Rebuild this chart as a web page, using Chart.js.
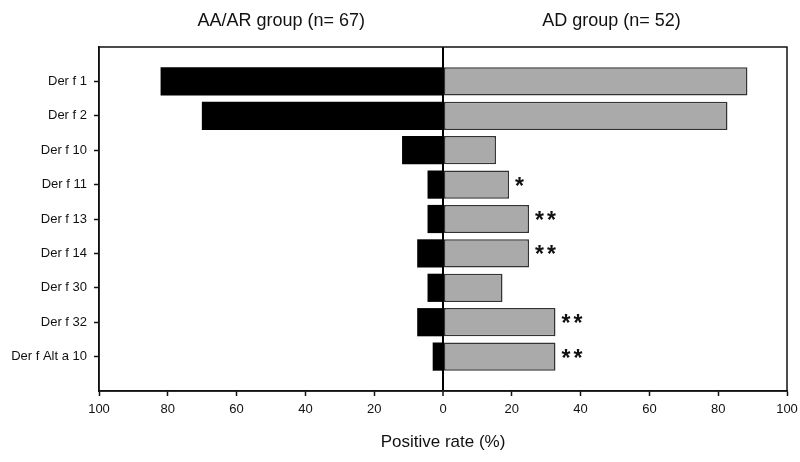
<!DOCTYPE html>
<html>
<head>
<meta charset="utf-8">
<script src="https://cdn.jsdelivr.net/npm/chart.js@4/dist/chart.umd.min.js"></script>
<style>
html,body{margin:0;padding:0;background:#fff;}
#wrap{width:800px;height:462px;}
</style>
</head>
<body>
<div id="wrap"><canvas id="chart"></canvas></div>
<script>
// allergen components, top to bottom
const allergens = ["Der f 1","Der f 2","Der f 10","Der f 11","Der f 13","Der f 14","Der f 30","Der f 32","Der f Alt a 10"];
// positive rates (%)
const aaArRate = [82.1, 70.1, 11.9, 4.5, 4.5, 7.5, 4.5, 7.5, 3.0];
const adRate   = [88.5, 82.7, 15.4, 19.2, 25.0, 25.0, 17.3, 32.7, 32.7];
// significance marks next to the AD bars
const sigMarks = ["", "", "", "*", "**", "**", "", "**", "**"];
const groupTitles = ["AA/AR group (n= 67)", "AD group (n= 52)"];
const axisTitle = "Positive rate (%)";

const FONT = "'Liberation Sans', Arial, sans-serif";
const INK = "#111";

// blank slot above and below so the rows sit one full step from the frame
const labels = ["", ...allergens, ""];
const leftData  = [null, ...aaArRate.map(v => -v), null];
const rightData = [null, ...adRate, null];

const extras = {
  id: "extras",
  afterDatasetsDraw(chart){
    const {ctx, chartArea:a, scales:{x, y}} = chart;
    ctx.save();
    // frame
    ctx.strokeStyle = INK; ctx.lineWidth = 1.5;
    ctx.strokeRect(a.left, a.top, a.right - a.left, a.bottom - a.top);
    // asterisks
    ctx.fillStyle = INK;
    ctx.font = "bold 23px " + FONT;
    ctx.textAlign = "left"; ctx.textBaseline = "alphabetic";
    sigMarks.forEach((m, i) => {
      const x0 = x.getPixelForValue(adRate[i]) + 6;
      const yc = y.getPixelForValue(i + 1);
      [...m].forEach((c, k) => ctx.fillText(c, x0 + k*12, yc + 9));
    });
    // group titles
    ctx.font = "18px " + FONT;
    ctx.textAlign = "center"; ctx.textBaseline = "middle";
    ctx.fillText(groupTitles[0], x.getPixelForValue(-47), 21);
    ctx.fillText(groupTitles[1], x.getPixelForValue(49), 21);
    ctx.restore();
  }
};

const ctx = document.getElementById("chart").getContext("2d");
new Chart(ctx, {
  type: "bar",
  data: {
    labels,
    datasets: [
      {label: groupTitles[0], data: leftData, backgroundColor: "#000", borderWidth: 0},
      {label: groupTitles[1], data: rightData, backgroundColor: "#aaaaaa", borderColor: "#333", borderWidth: 1.5, borderSkipped: false}
    ]
  },
  options: {
    indexAxis: "y",
    responsive: true,
    maintainAspectRatio: false,
    animation: false,
    barPercentage: 0.82,
    categoryPercentage: 1,
    layout: {padding: {top: 47, right: 13, left: 0, bottom: 0}},
    plugins: {legend: {display: false}, tooltip: {enabled: false}},
    scales: {
      x: {
        stacked: true,
        min: -100, max: 100,
        ticks: {stepSize: 20, color: INK, font: {size: 13, family: FONT}, padding: 6,
                callback: v => Math.abs(v)},
        grid: {
          drawOnChartArea: true,
          color: c => c.tick && c.tick.value === 0 ? "#000" : "rgba(0,0,0,0)",
          lineWidth: c => c.tick && c.tick.value === 0 ? 2 : 1,
          tickColor: INK, tickWidth: 1.5, tickLength: 5
        },
        border: {color: INK, width: 1.5},
        title: {display: true, text: axisTitle, color: INK, font: {size: 17, family: FONT}, padding: {top: 4, bottom: 9}},
        afterFit: s => { s.height = 71; s.paddingLeft = 0; s.paddingRight = 0; }
      },
      y: {
        stacked: true,
        offset: false,
        ticks: {color: INK, font: {size: 13, family: FONT}, padding: 7, autoSkip: false},
        grid: {
          offset: false,
          drawOnChartArea: false,
          color: c => (c.index === 0 || c.index === labels.length - 1) ? "rgba(0,0,0,0)" : INK,
          tickColor: c => (c.index === 0 || c.index === labels.length - 1) ? "rgba(0,0,0,0)" : INK,
          tickWidth: 1.5, tickLength: 5
        },
        border: {color: INK, width: 1.5},
        afterFit: s => { s.width = 99; }
      }
    }
  },
  plugins: [extras]
});
</script>
</body>
</html>
